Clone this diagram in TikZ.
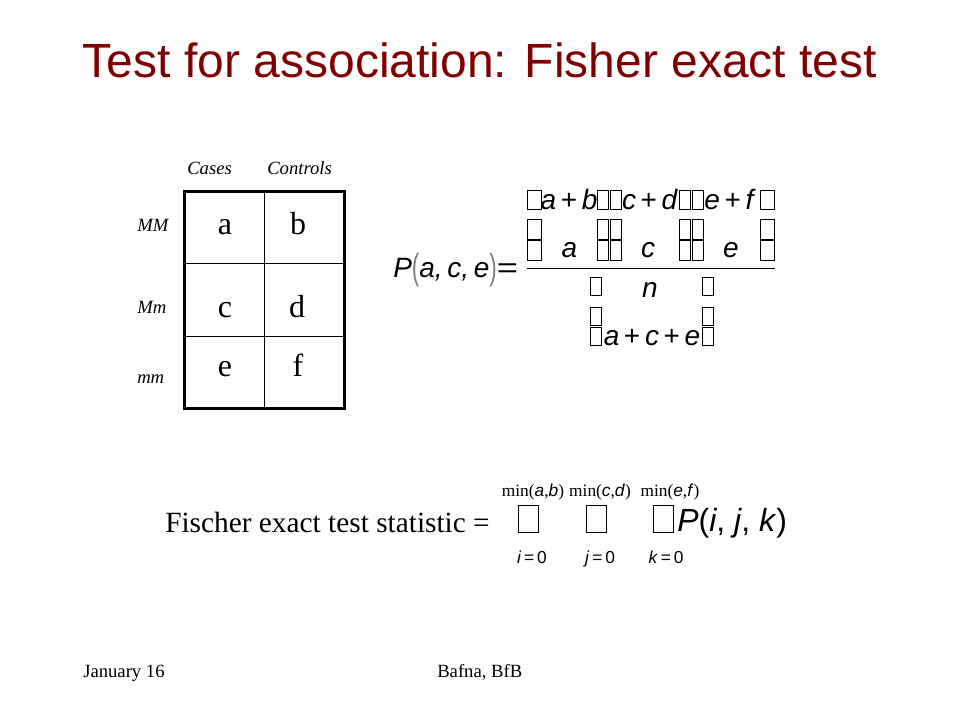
\documentclass[tikz,border=0pt]{standalone}
\usepackage{fontspec}
\setmainfont{Liberation Serif}
\setsansfont{Liberation Sans}
\usepackage{xcolor}
\usepackage{graphicx}
\usepackage{tikz}
\definecolor{slidered}{RGB}{128,0,0}
\tikzstyle{txt} = [inner sep=0pt, anchor=base]
\tikzstyle{gbox} = [rectangle, draw, line width=0.6pt, inner sep=0pt, minimum height=14.5pt]
\tikzstyle{sbox} = [gbox, minimum width=15pt, minimum height=20.25pt]
\newcommand{\ttlfont}{\sffamily\fontsize{36}{40}\selectfont}
\newcommand{\tabfont}{\fontsize{24}{28}\selectfont}
\newcommand{\hdrfont}{\itshape\fontsize{14}{16}\selectfont}
\newcommand{\eqfont}{\sffamily\fontsize{21}{24}\selectfont}
\newcommand{\limfont}{\fontsize{13}{15}\selectfont}
\newcommand{\footfont}{\fontsize{14}{16}\selectfont}
\newcommand{\sv}[1]{\textsf{\textit{#1}}}
\newcommand{\gpar}[1]{\textcolor{gray}{\raisebox{-2pt}{\scalebox{0.8}[1.3]{#1}}}}

\begin{document}
\begin{tikzpicture}[x=0.75pt, y=-0.75pt]
\useasboundingbox (0,0) rectangle (960,720);
\node [txt, text=slidered, font=\ttlfont] (title) at (480,78) {Test for association: Fisher exact test};
% contingency table
\draw [line width=2.25pt] (184,192) rectangle (344,408);
\draw [line width=0.75pt] (264,192) -- (264,408);
\draw [line width=0.75pt] (184,264) -- (344,264);
\draw [line width=0.75pt] (184,336) -- (344,336);
\foreach \t/\x/\y in {a/225/235, b/298/235, c/225/317, d/297/317, e/225/376, f/298/376}
  \node [txt, font=\tabfont] (cell\t) at (\x,\y) {\t};
\node [txt, anchor=base west, font=\hdrfont] (cases) at (187,175) {Cases};
\node [txt, anchor=base west, font=\hdrfont] (controls) at (267,175) {Controls};
\node [txt, anchor=base west, font=\hdrfont] (MM) at (137,232) {MM};
\node [txt, anchor=base west, font=\hdrfont] (Mm) at (137,313) {Mm};
\node [txt, anchor=base west, font=\hdrfont] (mm) at (137,383) {mm};
% probability formula
\node [txt, anchor=base west, font=\eqfont] (lhs) at (393,277) {\textit{P}\gpar{(}\textit{a,\,c,\,e}\gpar{)}\scalebox{1.3}[1]{=}};
\foreach \y [count=\r] in {200,229.5,250.5}
  \foreach \x/\w [count=\c] in {534/10.5, 602.5/8.25, 615.5/8.25, 684.5/8.25, 697.5/8.25, 767/10.5}
    \node [gbox, minimum width=\w pt] (num\r\c) at (\x,\y) {};
\node [txt, font=\eqfont] (ab) at (569,210) {\textit{a}\,+\,\textit{b}};
\node [txt, font=\eqfont] (cd) at (650,210) {\textit{c}\,+\,\textit{d}};
\node [txt, font=\eqfont] (ef) at (730,210) {\textit{e}\,+\,\textit{f}};
\node [txt, font=\eqfont] (na) at (569.5,258) {\textit{a}};
\node [txt, font=\eqfont] (nc) at (648,258) {\textit{c}};
\node [txt, font=\eqfont] (ne) at (731,258) {\textit{e}};
\coordinate (barL) at (527,269);
\coordinate (barR) at (775,269);
\draw [line width=0.75pt] (barL) -- (barR);
\foreach \y [count=\r] in {286,316.5,336}
  \foreach \x [count=\c] in {596,708}
    \node [gbox, minimum width=8.5pt, minimum height=13.5pt] (den\r\c) at (\x,\y) {};
\node [txt, font=\eqfont] (dn) at (650,297) {\textit{n}};
\node [txt, font=\eqfont] (ace) at (652,345) {\textit{a}\,+\,\textit{c}\,+\,\textit{e}};
% test statistic
\node [txt, anchor=base west, font=\fontsize{22}{26}\selectfont] (stat) at (165,532) {Fischer exact test statistic =};
\foreach \x/\ux/\lx/\v/\u/\l [count=\k] in {528/533/532/a/b/i, 596/600/600/c/d/j, 663/670/666/e/f/k} {
  \node [sbox] (sum\k) at (\x,518.5) {};
  \node [txt, font=\limfont] (up\k) at (\ux,496) {min(\sv{\v},\sv{\u})};
  \node [txt, font=\limfont] (lo\k) at (\lx,563) {\textsf{\textit{\l}\,=\,0}};
}
\node [txt, anchor=base west, font=\sffamily\fontsize{24}{28}\selectfont] (pijk) at (677,531) {\textit{P}(\textit{i}, \textit{j}, \textit{k})};
% footer
\node [txt, anchor=base west, font=\footfont] (date) at (83,677) {January 16};
\node [txt, anchor=base west, font=\footfont] (author) at (437,677) {Bafna, BfB};
\end{tikzpicture}
\end{document}
